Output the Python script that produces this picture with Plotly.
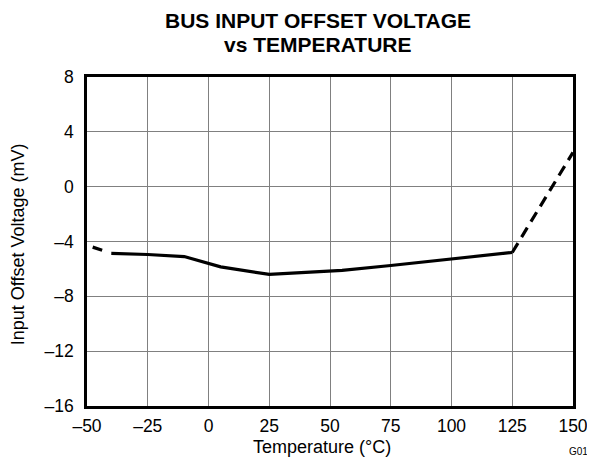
import plotly.graph_objects as go

temp_solid = [-40, -25, -10, 0, 5, 25, 55, 75, 100, 125]
volt_solid = [-4.87, -4.95, -5.1, -5.6, -5.85, -6.4, -6.1, -5.75, -5.3, -4.8]
temp_dash_left = [-50, -40]
volt_dash_left = [-4.27, -4.87]
temp_dash_right = [125, 150]
volt_dash_right = [-4.8, 2.5]

x_ticks = [-50, -25, 0, 25, 50, 75, 100, 125, 150]
y_ticks = [-16, -12, -8, -4, 0, 4, 8]

def lab(v):
    return ("–" + str(abs(v))) if v < 0 else str(v)

FONT = "Liberation Sans, Arial, sans-serif"

fig = go.Figure()
fig.add_trace(go.Scatter(x=temp_dash_left, y=volt_dash_left, mode="lines",
                         line=dict(color="black", width=3.2, dash="0px,6px,10px,12px")))
fig.add_trace(go.Scatter(x=temp_solid, y=volt_solid, mode="lines",
                         line=dict(color="black", width=3.2)))
fig.add_trace(go.Scatter(x=temp_dash_right, y=volt_dash_right, mode="lines",
                         line=dict(color="black", width=3.2, dash="11px,7px")))

fig.update_layout(
    width=587, height=454,
    margin=dict(l=79, r=22, t=69, b=56, autoexpand=False),
    paper_bgcolor="white", plot_bgcolor="white",
    showlegend=False,
    font=dict(family=FONT, size=17.5, color="black"),
    xaxis=dict(range=[-50, 150], tickvals=x_ticks, ticktext=[lab(v) for v in x_ticks],
               showgrid=True, gridcolor="#808080", gridwidth=1,
               showline=True, linecolor="black", linewidth=2.5, mirror=True,
               ticks="", zeroline=False, ticklabelstandoff=2,
               tickfont=dict(size=17.5)),
    yaxis=dict(range=[-16, 8], tickvals=y_ticks, ticktext=[lab(v) for v in y_ticks],
               showgrid=True, gridcolor="#808080", gridwidth=1,
               showline=True, linecolor="black", linewidth=2.5, mirror=True,
               ticks="", zeroline=False, ticklabelstandoff=7,
               tickfont=dict(size=17.5)),
    annotations=[
        dict(text="<b>BUS INPUT OFFSET VOLTAGE</b>",
             xref="paper", yref="paper", x=0.475, y=1.173,
             xanchor="center", yanchor="middle", showarrow=False,
             font=dict(size=21, color="black")),
        dict(text="<b>vs TEMPERATURE</b>",
             xref="paper", yref="paper", x=0.475, y=1.099,
             xanchor="center", yanchor="middle", showarrow=False,
             font=dict(size=21, color="black")),
        dict(text="Temperature (°C)", xref="paper", yref="paper", x=0.4835, y=-0.125,
             xanchor="center", yanchor="middle", showarrow=False,
             font=dict(size=18, color="black")),
        dict(text="Input Offset Voltage (mV)", xref="paper", yref="paper", x=-0.143, y=0.49,
             xanchor="center", yanchor="middle", showarrow=False, textangle=-90,
             font=dict(size=18, color="black")),
        dict(text="G010", xref="paper", yref="paper", x=1.047, y=-0.137,
             xanchor="right", yanchor="middle", showarrow=False,
             font=dict(size=10, color="black")),
    ],
)

fig.write_html("out.html")
